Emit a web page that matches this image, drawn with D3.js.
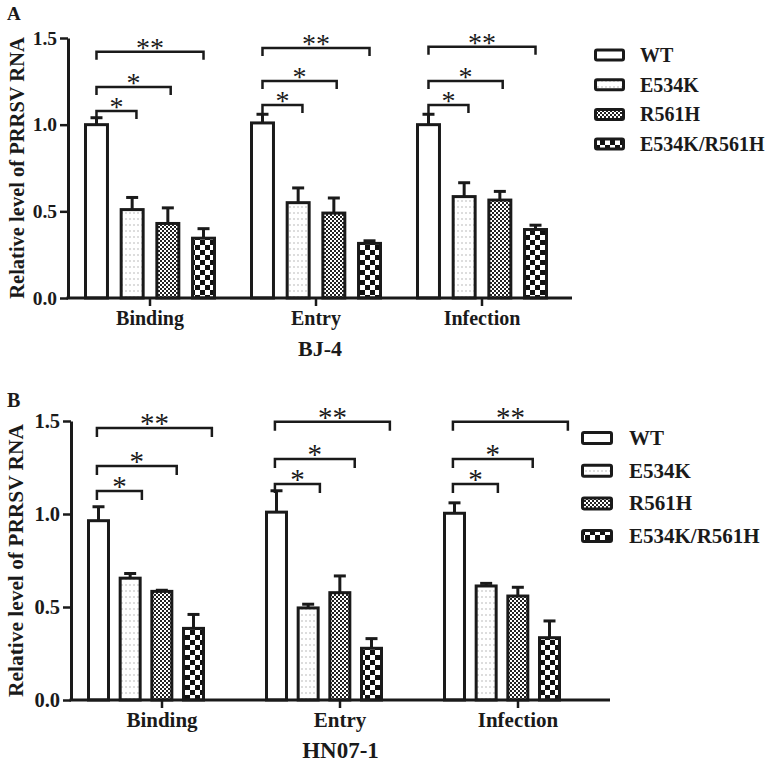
<!DOCTYPE html>
<html>
<head>
<meta charset="utf-8">
<script src="https://cdn.jsdelivr.net/npm/d3@7"></script>
<style>
  html, body { margin: 0; padding: 0; background: #fff; }
  svg { display: block; }
  text { font-family: "Liberation Serif", "Times New Roman", serif; fill: #1a1a1a; }
</style>
</head>
<body>
<svg id="chart" width="767" height="763"></svg>
<script>
// ---------------- data ----------------
const categories = ["Binding", "Entry", "Infection"];
const series = ["WT", "E534K", "R561H", "E534K/R561H"];
const strains = ["BJ-4", "HN07-1"];
const panelLetters = ["A", "B"];
const yTicks = [0, 0.5, 1.0, 1.5];
// rows = series, columns = categories
const bj4Means  = [[1.00, 1.01, 1.00], [0.51, 0.55, 0.585], [0.43, 0.49, 0.565], [0.345, 0.315, 0.395]];
const bj4Errors = [[0.04, 0.05, 0.06], [0.07, 0.085, 0.08], [0.09, 0.087, 0.05], [0.055, 0.015, 0.025]];
const hn07Means  = [[0.964, 1.01, 1.004], [0.655, 0.495, 0.613], [0.584, 0.577, 0.559], [0.385, 0.278, 0.335]];
const hn07Errors = [[0.075, 0.115, 0.056], [0.025, 0.02, 0.014], [0.006, 0.09, 0.047], [0.075, 0.052, 0.09]];
// significance of WT vs E534K, WT vs R561H, WT vs E534K/R561H
const sigLabels = ["*", "*", "**"];

// ---------------- layout ----------------
const panels = [
  { means: bj4Means, errors: bj4Errors, strain: strains[0], letter: panelLetters[0],
    yTop: 38, yBottom: 298, axisX0: 68, axisX1: 572, bandRange: [67, 565], barShift: 0,
    innerHalf: 66, innerPad: 0.3, tickSize: 19.5, catSize: 20, catBaseline: 325,
    titleBaseline: 356, titleSize: 22, ylabelX: 17, ylabelSize: 20.5,
    letterBaseline: 20, letterSize: 19,
    legendBoxX: 594, legendBoxW: 31, legendBoxH: 13, legendY0: 55, legendDy: 29.7,
    legendTextX: 640, legendSize: 20,
    bracketLevels: [[1.079, 1.217, 1.42], [1.114, 1.252, 1.443], [1.114, 1.252, 1.45]],
    bracketEnds: [1.12, 2.08, 3.0], bracketStart: 0, bracketTick: 8, starSize: 28 },
  { means: hn07Means, errors: hn07Errors, strain: strains[1], letter: panelLetters[1],
    yTop: 421, yBottom: 700, axisX0: 71, axisX1: 610, bandRange: [73, 607], barShift: -16,
    innerHalf: 59, innerPad: 0.274, tickSize: 20.5, catSize: 21, catBaseline: 727,
    titleBaseline: 758, titleSize: 23, ylabelX: 16, ylabelSize: 21.4,
    letterBaseline: 407, letterSize: 20,
    legendBoxX: 581, legendBoxW: 32, legendBoxH: 14, legendY0: 438, legendDy: 32.7,
    legendTextX: 629, legendSize: 21,
    bracketLevels: [[1.124, 1.258, 1.462], [1.161, 1.296, 1.496], [1.161, 1.296, 1.496]],
    bracketEnds: [1.37, 2.47, 3.58], bracketStart: -0.05, bracketTick: 9, starSize: 29 }
];

const ink = "#1a1a1a";
const svg = d3.select("#chart");

// ---------------- patterns ----------------
const defs = svg.append("defs");
const pDots = defs.append("pattern").attr("id", "pat-dots")
  .attr("patternUnits", "userSpaceOnUse").attr("width", 4).attr("height", 6);
pDots.append("rect").attr("width", 4).attr("height", 6).attr("fill", "#fff");
pDots.append("rect").attr("x", 1.5).attr("y", 2.5).attr("width", 1).attr("height", 1).attr("fill", "#777");

const pFine = defs.append("pattern").attr("id", "pat-fine")
  .attr("patternUnits", "userSpaceOnUse").attr("width", 4).attr("height", 4);
pFine.append("rect").attr("width", 4).attr("height", 4).attr("fill", "#fff");
pFine.append("rect").attr("x", 0).attr("y", 0).attr("width", 2).attr("height", 2).attr("fill", "#222");
pFine.append("rect").attr("x", 2).attr("y", 2).attr("width", 2).attr("height", 2).attr("fill", "#222");

const pBig = defs.append("pattern").attr("id", "pat-big")
  .attr("patternUnits", "userSpaceOnUse").attr("width", 10).attr("height", 10);
pBig.append("rect").attr("width", 10).attr("height", 10).attr("fill", "#fff");
pBig.append("rect").attr("x", 0).attr("y", 0).attr("width", 5).attr("height", 5).attr("fill", "#111");
pBig.append("rect").attr("x", 5).attr("y", 5).attr("width", 5).attr("height", 5).attr("fill", "#111");

const fills = d3.scaleOrdinal().domain(series)
  .range(["#fff", "url(#pat-dots)", "url(#pat-fine)", "url(#pat-big)"]);

// ---------------- draw panels ----------------
panels.forEach(P => {
  const g = svg.append("g");
  const y = d3.scaleLinear().domain([0, 1.5]).range([P.yBottom, P.yTop]);
  const x = d3.scaleBand().domain(categories).range(P.bandRange).padding(0);
  const inner = d3.scaleBand().domain(series).range([-P.innerHalf, P.innerHalf])
    .paddingInner(P.innerPad).paddingOuter(0);
  const sw = 3;
  const barCenter = (ci, si) => x(categories[ci]) + x.bandwidth() / 2 + P.barShift
    + inner(series[si]) + inner.bandwidth() / 2;

  // bars
  series.forEach((s, si) => {
    categories.forEach((c, ci) => {
      const v = P.means[si][ci];
      const cx = barCenter(ci, si);
      const w = inner.bandwidth() - sw;
      const e = P.errors[si][ci];
      g.append("line").attr("x1", cx).attr("x2", cx)
        .attr("y1", y(v)).attr("y2", y(v + e))
        .attr("stroke", ink).attr("stroke-width", sw);
      g.append("line").attr("x1", cx - 6).attr("x2", cx + 6)
        .attr("y1", y(v + e)).attr("y2", y(v + e))
        .attr("stroke", ink).attr("stroke-width", sw);
      g.append("rect")
        .attr("x", cx - w / 2).attr("width", w)
        .attr("y", y(v)).attr("height", y(0) - y(v))
        .attr("fill", fills(s)).attr("stroke", ink).attr("stroke-width", sw);
    });
  });

  // y axis
  const yAxis = d3.axisLeft(y).tickValues(yTicks).tickFormat(d3.format(".1f"))
    .tickSize(8).tickSizeOuter(0).tickPadding(3);
  const ya = g.append("g").attr("transform", `translate(${P.axisX0},0)`).call(yAxis);
  ya.select(".domain").attr("stroke", ink).attr("stroke-width", 3);
  ya.selectAll(".tick line").attr("stroke", ink).attr("stroke-width", 2.5);
  ya.selectAll(".tick text").attr("font-family", "Liberation Serif, serif")
    .attr("font-weight", "bold").attr("font-size", P.tickSize).attr("fill", ink);

  // x axis
  const xAxis = d3.axisBottom(x).tickSize(8).tickSizeOuter(0).tickPadding(4).tickFormat(() => "");
  const xa = g.append("g").attr("transform", `translate(0,${P.yBottom})`).call(xAxis);
  xa.select(".domain").remove();
  xa.selectAll(".tick line").attr("stroke", ink).attr("stroke-width", 2.5);
  g.append("line").attr("x1", P.axisX0 - 1.5).attr("x2", P.axisX1)
    .attr("y1", P.yBottom).attr("y2", P.yBottom)
    .attr("stroke", ink).attr("stroke-width", 3);
  categories.forEach(c => {
    g.append("text").attr("x", x(c) + x.bandwidth() / 2).attr("y", P.catBaseline)
      .attr("text-anchor", "middle").attr("font-weight", "bold")
      .attr("font-size", P.catSize).text(c);
  });

  // strain title
  g.append("text").attr("x", (P.axisX0 + P.axisX1) / 2).attr("y", P.titleBaseline)
    .attr("text-anchor", "middle").attr("font-weight", "bold")
    .attr("font-size", P.titleSize).text(P.strain);

  // y label
  g.append("text")
    .attr("transform", `translate(${P.ylabelX},${(P.yTop + P.yBottom) / 2}) rotate(-90)`)
    .attr("text-anchor", "middle").attr("dominant-baseline", "central")
    .attr("font-weight", "bold").attr("font-size", P.ylabelSize)
    .text("Relative level of PRRSV RNA");

  // panel letter
  g.append("text").attr("x", 7).attr("y", P.letterBaseline)
    .attr("font-weight", "bold").attr("font-size", P.letterSize).text(P.letter);

  // significance brackets
  categories.forEach((c, ci) => {
    const x0 = barCenter(ci, 0) + P.bracketStart * inner.step();
    sigLabels.forEach((lab, k) => {
      const x1 = barCenter(ci, 0) + P.bracketEnds[k] * inner.step();
      const yy = y(P.bracketLevels[ci][k]);
      g.append("path")
        .attr("d", `M${x0},${yy + P.bracketTick} V${yy} H${x1} V${yy + P.bracketTick}`)
        .attr("fill", "none").attr("stroke", ink).attr("stroke-width", 2.5);
      g.append("text").attr("x", (x0 + x1) / 2).attr("y", yy + 5)
        .attr("text-anchor", "middle").attr("font-size", P.starSize)
        .attr("fill", "#333").text(lab);
    });
  });

  // legend
  series.forEach((s, si) => {
    const cy = P.legendY0 + si * P.legendDy;
    g.append("rect").attr("x", P.legendBoxX + 1.5).attr("y", cy - P.legendBoxH / 2 + 1.5)
      .attr("width", P.legendBoxW - 3).attr("height", P.legendBoxH - 3)
      .attr("rx", 1.5).attr("fill", fills(s)).attr("stroke", ink).attr("stroke-width", 3);
    g.append("text").attr("x", P.legendTextX).attr("y", cy)
      .attr("dominant-baseline", "central").attr("font-weight", "bold")
      .attr("font-size", P.legendSize).text(s);
  });
});
</script>
</body>
</html>
